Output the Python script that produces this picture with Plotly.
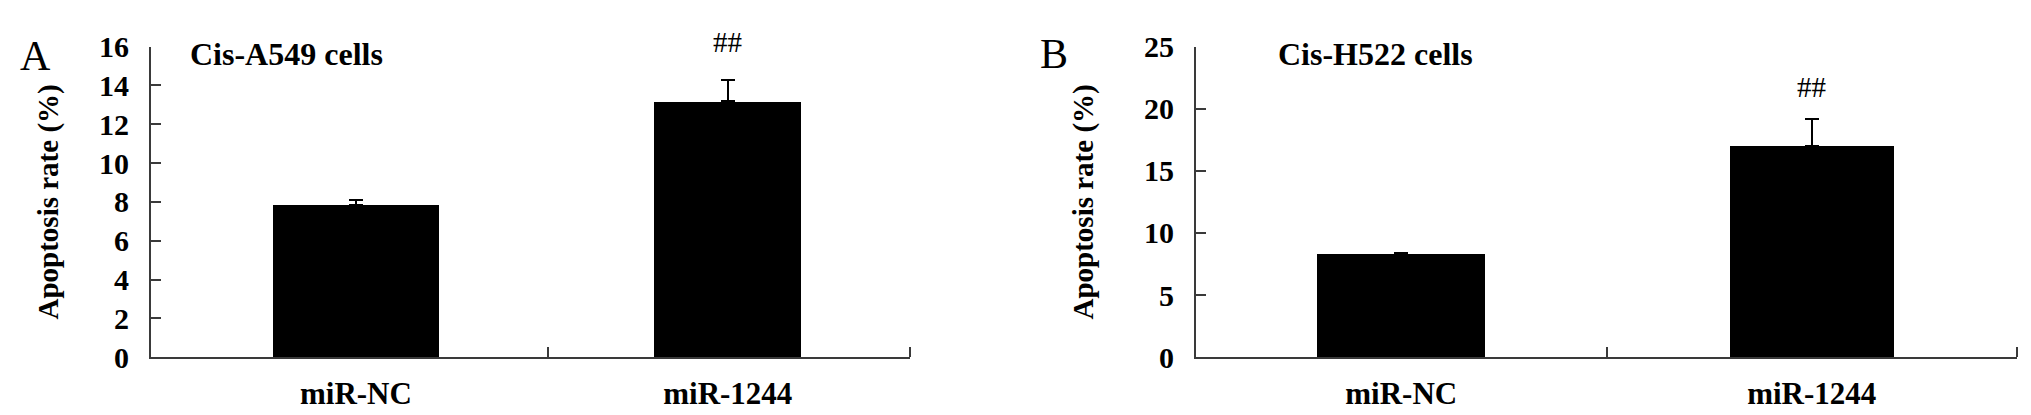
import plotly.graph_objects as go

categories = ["miR-NC", "miR-1244"]
a549_mean = [7.86, 13.18]
a549_err = [0.25, 1.1]
h522_mean = [8.36, 17.01]
h522_err = [0.0, 2.2]
a549_ticks = [0, 2, 4, 6, 8, 10, 12, 14, 16]
h522_ticks = [0, 5, 10, 15, 20, 25]
sig_marks = ["##", "##"]

FONT = "Liberation Serif"
AX = "#3a3a3a"
W, H = 2031, 415

fig = go.Figure()
fig.add_trace(go.Bar(
    x=[0, 1], y=a549_mean, width=[0.446, 0.395],
    marker=dict(color="black", line=dict(width=0)),
    error_y=dict(type="data", symmetric=False, array=a549_err, arrayminus=[0, 0],
                 thickness=2, width=7, color="black"),
    xaxis="x", yaxis="y", showlegend=False))
fig.add_trace(go.Bar(
    x=[0, 1], y=h522_mean, width=[0.41, 0.40],
    marker=dict(color="black", line=dict(width=0)),
    error_y=dict(type="data", symmetric=False, array=h522_err, arrayminus=[0, 0],
                 thickness=2, width=7, color="black"),
    xaxis="x2", yaxis="y2", showlegend=False))

ydom = [(H - 361) / H, (H - 24.5) / H]
tickfont = dict(family=FONT, size=30, color="black", weight="bold")
catfont = dict(family=FONT, size=31, color="black", weight="bold")
titlefont = dict(family=FONT, size=29, color="black", weight="bold")
paneltitlefont = dict(family=FONT, size=32, color="black", weight="bold")

common_y = dict(showline=True, linewidth=2, linecolor=AX, ticks="inside", ticklen=10,
                tickwidth=2, tickcolor=AX, showgrid=False, zeroline=False,
                tickfont=tickfont, ticklabelstandoff=14)
common_x = dict(showline=True, linewidth=2, linecolor=AX, ticks="", showgrid=False,
                zeroline=False, tickfont=catfont, ticklabelstandoff=8)

fig.update_layout(
    width=W, height=H, plot_bgcolor="white", paper_bgcolor="white",
    margin=dict(l=0, r=0, t=0, b=0), bargap=0,
    xaxis=dict(domain=[143 / W, 902 / W], range=[-0.551, 1.49],
               tickmode="array", tickvals=[0, 1], ticktext=categories,
               minor=dict(tickmode="array", tickvals=[0.516, 1.4895], ticks="inside",
                          ticklen=10, tickwidth=2, tickcolor=AX),
               anchor="y", **common_x),
    yaxis=dict(domain=ydom, range=[0, 16], tickmode="array", tickvals=a549_ticks,
               anchor="x",
               title=dict(text="Apoptosis rate (%)", font=titlefont, standoff=32),
               **common_y),
    xaxis2=dict(domain=[1188 / W, 2009 / W], range=[-0.5, 1.5],
                tickmode="array", tickvals=[0, 1], ticktext=categories,
                minor=dict(tickmode="array", tickvals=[0.5, 1.4995], ticks="inside",
                           ticklen=10, tickwidth=2, tickcolor=AX),
                anchor="y2", **common_x),
    yaxis2=dict(domain=ydom, range=[0, 25], tickmode="array", tickvals=h522_ticks,
                anchor="x2",
                title=dict(text="Apoptosis rate (%)", font=titlefont, standoff=42),
                **common_y),
)

ann = []
for i in range(2):
    ann.append(dict(x=i, y=a549_mean[i] + a549_err[i], xref="x", yref="y",
                    text=sig_marks[0] if i == 1 else "", showarrow=False,
                    yanchor="bottom", yshift=20,
                    font=dict(family=FONT, size=29, color="black")))
    ann.append(dict(x=i, y=h522_mean[i] + h522_err[i], xref="x2", yref="y2",
                    text=sig_marks[1] if i == 1 else "", showarrow=False,
                    yanchor="bottom", yshift=14,
                    font=dict(family=FONT, size=29, color="black")))
ann += [
    dict(x=180 / W, y=(H - 33) / H, xref="paper", yref="paper", text="Cis-A549 cells",
         xanchor="left", yanchor="middle", showarrow=False, font=paneltitlefont),
    dict(x=1268 / W, y=(H - 33) / H, xref="paper", yref="paper", text="Cis-H522 cells",
         xanchor="left", yanchor="middle", showarrow=False, font=paneltitlefont),
    dict(x=10 / W, y=(H - 35) / H, xref="paper", yref="paper", text="A",
         xanchor="left", yanchor="middle", showarrow=False,
         font=dict(family=FONT, size=42, color="black")),
    dict(x=1030 / W, y=(H - 33) / H, xref="paper", yref="paper", text="B",
         xanchor="left", yanchor="middle", showarrow=False,
         font=dict(family=FONT, size=42, color="black")),
]
fig.update_layout(annotations=ann)

fig.write_html("out.html")
